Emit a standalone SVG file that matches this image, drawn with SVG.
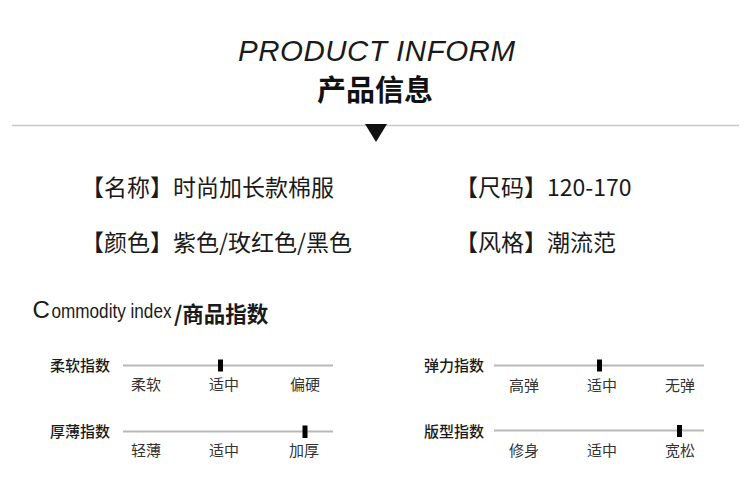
<svg xmlns="http://www.w3.org/2000/svg" width="750" height="477" viewBox="0 0 750 477">
<style>
.cjk{font-family:"Noto Sans CJK SC","Noto Sans",sans-serif;}
.lat{font-family:"Liberation Sans",Arial,sans-serif;}
.info{font-size:23px;fill:#1a1a1a;}
.lbl{font-size:15px;font-weight:500;fill:#1a1a1a;}
.sub{font-size:15px;fill:#333;text-anchor:middle;}
.track{stroke:#b8b8b8;stroke-width:2.2;}
.knob{fill:#000;}
</style>
<rect width="750" height="477" fill="#fff"/>
<g id="header">
<text x="238" y="61" class="lat" font-style="italic" font-size="29.5" fill="#1a1a1a" textLength="277" lengthAdjust="spacing">PRODUCT INFORM</text>
<text x="375" y="101" class="cjk" font-size="29" font-weight="bold" text-anchor="middle" fill="#111">产品信息</text>
<line x1="12" y1="125.5" x2="739" y2="125.5" stroke="#c8c8c8" stroke-width="1.6"/>
<polygon points="365,124 387,124 376,142" fill="#111"/>
</g>
<g id="info">
<text x="81" y="196" class="cjk info">【名称】时尚加长款棉服</text>
<text x="455" y="196" class="cjk info">【尺码】120-170</text>
<text x="81" y="251" class="cjk info">【颜色】紫色/玫红色/黑色</text>
<text x="455" y="251" class="cjk info">【风格】潮流范</text>
</g>
<g id="commodity-title">
<text x="32.5" y="318" class="lat" font-size="24" fill="#1a1a1a">C</text>
<text transform="translate(51.5,318) scale(1,1.15)" x="0" y="0" class="lat" font-size="17" fill="#1a1a1a" textLength="120" lengthAdjust="spacingAndGlyphs">ommodity index</text>
<text x="174" y="322" class="cjk" font-size="21.5" font-weight="bold" fill="#1a1a1a">/商品指数</text>
</g>
<g id="index-softness">
<text x="50" y="371" class="cjk lbl">柔软指数</text>
<line x1="123" y1="365.5" x2="333" y2="365.5" class="track"/>
<rect x="218" y="359.5" width="5" height="12" class="knob"/>
<text x="146" y="390" class="cjk sub">柔软</text>
<text x="224" y="390" class="cjk sub">适中</text>
<text x="305" y="390" class="cjk sub">偏硬</text>
</g>
<g id="index-thickness">
<text x="50" y="437" class="cjk lbl">厚薄指数</text>
<line x1="123" y1="431.5" x2="333" y2="431.5" class="track"/>
<rect x="302.5" y="425.5" width="5" height="12.5" class="knob"/>
<text x="146" y="456" class="cjk sub">轻薄</text>
<text x="224" y="456" class="cjk sub">适中</text>
<text x="304" y="456" class="cjk sub">加厚</text>
</g>
<g id="index-elasticity">
<text x="424" y="371" class="cjk lbl">弹力指数</text>
<line x1="494" y1="365.5" x2="704" y2="365.5" class="track"/>
<rect x="597" y="359.5" width="5" height="12" class="knob"/>
<text x="524" y="391" class="cjk sub">高弹</text>
<text x="602" y="391" class="cjk sub">适中</text>
<text x="680" y="391" class="cjk sub">无弹</text>
</g>
<g id="index-fit">
<text x="424" y="437" class="cjk lbl">版型指数</text>
<line x1="494" y1="430.5" x2="704" y2="430.5" class="track"/>
<rect x="677" y="425" width="5" height="12" class="knob"/>
<text x="524" y="456" class="cjk sub">修身</text>
<text x="602" y="456" class="cjk sub">适中</text>
<text x="680" y="456" class="cjk sub">宽松</text>
</g>
<g id="connectors"></g>
</svg>
